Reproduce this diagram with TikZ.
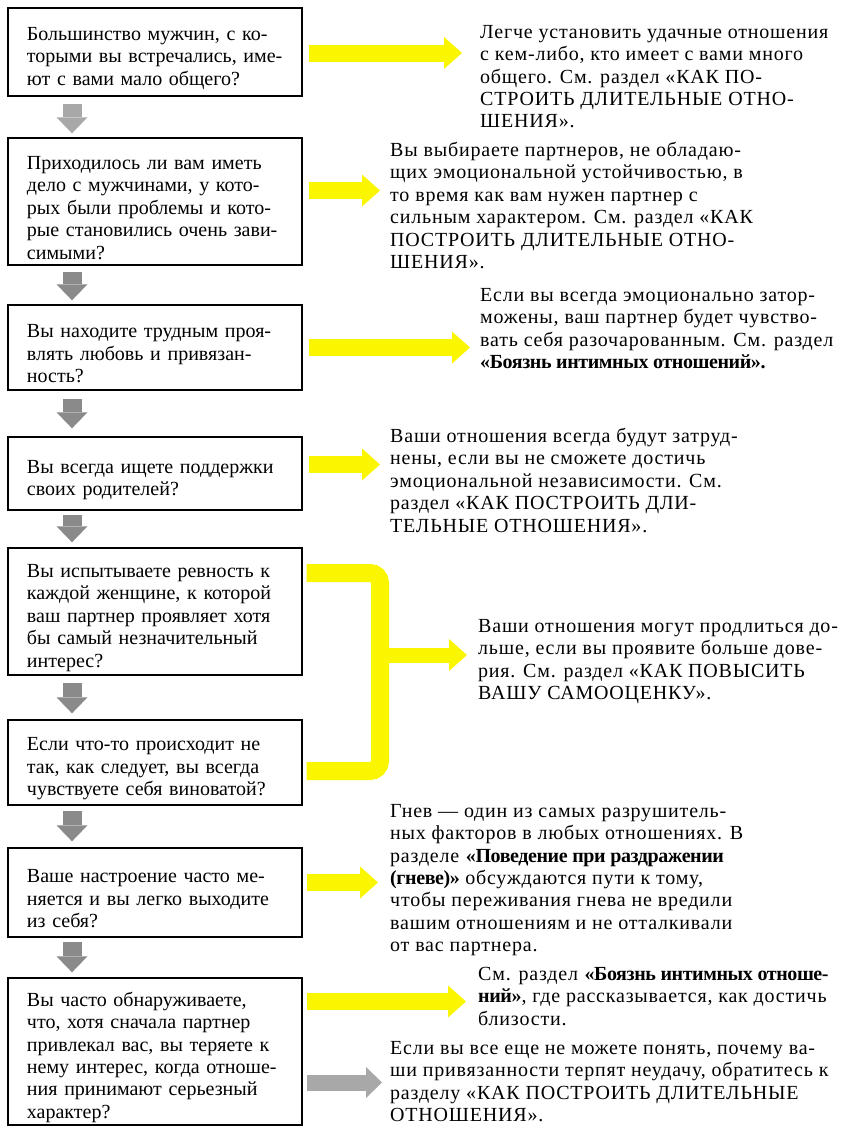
\documentclass[tikz,border=0pt]{standalone}
\usepackage{fontspec}
\setmainfont{Liberation Serif}
\newfontfamily\ansfont{Liberation Serif}[LetterSpace=4, BoldFeatures={LetterSpace=-2}]
\usetikzlibrary{arrows.meta,calc}
\definecolor{ylw}{RGB}{250,246,0}
\definecolor{gdark}{RGB}{138,138,138}
\definecolor{glight}{RGB}{168,168,168}
\newcommand{\bodyfont}{\fontsize{20}{22.4}\selectfont}
\newcommand{\answerfont}{\ansfont\fontsize{20}{22.4}\selectfont}
\tikzset{
  qbox/.style={draw=black, line width=1.4pt, text width=256pt, inner xsep=19pt, inner ysep=0pt, align=left, font=\bodyfont, execute at begin node={\rule{0pt}{26pt}}},
  atext/.style={anchor=north west, inner sep=0pt, align=left, font=\answerfont, execute at begin node=\strut},
  yarrow/.style={draw=ylw, line width=17pt, line cap=butt, -{Triangle[width=32pt,length=18pt,line width=0pt]}},
  ybar/.style={draw=ylw, line width=18pt, line cap=butt, rounded corners=10pt},
  garrow/.style={draw=gdark, line width=19pt, line cap=butt, -{Triangle[width=31pt,length=16pt,line width=0pt]}},
  glarrow/.style={garrow, draw=glight},
}
\begin{document}
\begin{tikzpicture}[x=1pt,y=-1pt]
\useasboundingbox (0,0) rectangle (853,1138);
\fill[white] (0,0) rectangle (853,1138);

% question boxes
\node[qbox, minimum height=88pt] (b1) at (155,52) {Большинство мужчин, с ко-\\торыми вы встречались, име-\\ют с вами мало общего?};
\node[qbox, minimum height=127pt] (b2) at (155,201.5) {Приходилось ли вам иметь\\дело с мужчинами, у кото-\\рых были проблемы и кото-\\рые становились очень зави-\\симыми?};
\node[qbox, minimum height=85pt] (b3) at (155,347.5) {Вы находите трудным проя-\\влять любовь и привязан-\\ность?};
\node[qbox, minimum height=73pt] (b4) at (155,473.5) {Вы всегда ищете поддержки\\своих родителей?};
\node[qbox, minimum height=127pt] (b5) at (155,611.5) {Вы испытываете ревность к\\каждой женщине, к которой\\ваш партнер проявляет хотя\\бы самый незначительный\\интерес?};
\node[qbox, minimum height=85pt] (b6) at (155,762.5) {Если что-то происходит не\\так, как следует, вы всегда\\чувствуете себя виноватой?};
\node[qbox, minimum height=89pt] (b7) at (155,892.5) {Ваше настроение часто ме-\\няется и вы легко выходите\\из себя?};
\node[qbox, minimum height=147pt] (b8) at (155,1051.5) {Вы часто обнаруживаете,\\что, хотя сначала партнер\\привлекал вас, вы теряете к\\нему интерес, когда отноше-\\ния принимают серьезный\\характер?};

% answer texts
\node[atext] (t1) at (480,25) {Легче установить удачные отношения\\с кем-либо, кто имеет с вами много\\общего. См. раздел «КАК ПО-\\СТРОИТЬ ДЛИТЕЛЬНЫЕ ОТНО-\\ШЕНИЯ».};
\node[atext] (t2) at (390,142) {Вы выбираете партнеров, не обладаю-\\щих эмоциональной устойчивостью, в\\то время как вам нужен партнер с\\сильным характером. См. раздел «КАК\\ПОСТРОИТЬ ДЛИТЕЛЬНЫЕ ОТНО-\\ШЕНИЯ».};
\node[atext] (t3) at (480,288) {Если вы всегда эмоционально затор-\\можены, ваш партнер будет чувство-\\вать себя разочарованным. См. раздел\\\textbf{«Боязнь интимных отношений».}};
\node[atext] (t4) at (390,428) {Ваши отношения всегда будут затруд-\\нены, если вы не сможете достичь\\эмоциональной независимости. См.\\раздел «КАК ПОСТРОИТЬ ДЛИ-\\ТЕЛЬНЫЕ ОТНОШЕНИЯ».};
\node[atext] (t5) at (478,619) {Ваши отношения могут продлиться до-\\льше, если вы проявите больше дове-\\рия. См. раздел «КАК ПОВЫСИТЬ\\ВАШУ САМООЦЕНКУ».};
\node[atext] (t6) at (390,804) {Гнев — один из самых разрушитель-\\ных факторов в любых отношениях. В\\разделе \textbf{«Поведение при раздражении}\\\textbf{(гневе)»} обсуждаются пути к тому,\\чтобы переживания гнева не вредили\\вашим отношениям и не отталкивали\\от вас партнера.};
\node[atext] (t7) at (478,967) {См. раздел \textbf{«Боязнь интимных отноше-}\\\textbf{ний»}, где рассказывается, как достичь\\близости.};
\node[atext] (t8) at (390,1041) {Если вы все еще не можете понять, почему ва-\\ши привязанности терпят неудачу, обратитесь к\\разделу «КАК ПОСТРОИТЬ ДЛИТЕЛЬНЫЕ\\ОТНОШЕНИЯ».};

% gray down arrows
\draw[glarrow, shorten <=7pt, shorten >=4pt] ([xshift=-83pt]b1.south) -- ([xshift=-83pt]b2.north);
\draw[garrow, shorten <=6pt, shorten >=4pt] ([xshift=-83pt]b2.south) -- ([xshift=-83pt]b3.north);
\draw[garrow, shorten <=8pt, shorten >=8pt] ([xshift=-83pt]b3.south) -- ([xshift=-83pt]b4.north);
\draw[garrow, shorten <=4pt, shorten >=5pt] ([xshift=-83pt]b4.south) -- ([xshift=-83pt]b5.north);
\draw[garrow, shorten <=7pt, shorten >=6pt] ([xshift=-83pt]b5.south) -- ([xshift=-83pt]b6.north);
\draw[garrow, shorten <=5pt, shorten >=6pt] ([xshift=-83pt]b6.south) -- ([xshift=-83pt]b7.north);
\draw[garrow, shorten <=4pt, shorten >=5pt] ([xshift=-83pt]b7.south) -- ([xshift=-83pt]b8.north);

% yellow arrows
\coordinate (a1) at ([xshift=6pt,yshift=-1pt]b1.east);
\coordinate (a2) at ([xshift=6pt,yshift=11pt]b2.east);
\coordinate (a3) at ([xshift=6pt,yshift=0pt]b3.east);
\coordinate (a4) at ([xshift=6pt,yshift=9pt]b4.east);
\coordinate (a7) at ([xshift=4pt,yshift=10pt]b7.east);
\coordinate (a8) at ([xshift=4pt,yshift=50pt]b8.east);
\coordinate (g8) at ([xshift=4pt,yshift=-31pt]b8.east);
\draw[yarrow, shorten >=18pt] (a1) -- (a1 -| t1.west);
\draw[yarrow, shorten >=10pt] (a2) -- (a2 -| t2.west);
\draw[yarrow, shorten >=10pt] (a3) -- (a3 -| t3.west);
\draw[yarrow, shorten >=10pt] (a4) -- (a4 -| t4.west);
\draw[yarrow, shorten >=12pt] (a7) -- (a7 -| t6.west);
\draw[yarrow, shorten >=12pt] (a8) -- (a8 -| t7.west);
\draw[glarrow, line width=16pt, shorten >=8pt] (g8) -- (g8 -| t8.west);

% bracket joining boxes 5 and 6
\coordinate (k1) at ([xshift=4pt,yshift=38.5pt]b5.east);
\coordinate (k2) at ([xshift=4pt,yshift=-8.5pt]b6.east);
\coordinate (kx) at (380,655);
\draw[ybar] (k1) -- (k1 -| kx) -- (k2 -| kx) -- (k2);
\draw[yarrow, line width=15pt, shorten >=11pt] ([xshift=-1pt]kx) -- (kx -| t5.west);
\end{tikzpicture}
\end{document}
